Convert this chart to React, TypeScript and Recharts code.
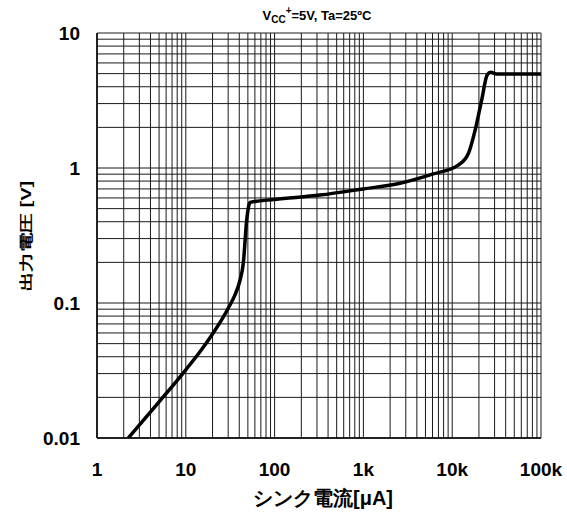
import { LineChart, Line, XAxis, YAxis, CartesianGrid, Customized } from 'recharts'

// sink current [uA] vs output voltage [V]
const currentUA = [2.25, 5, 10, 15, 20, 25, 31, 36, 40.5, 44.4, 48.5, 51, 53, 100, 325, 1000, 2580, 6000, 11700, 15200, 18100, 21500, 24800, 27100, 31700, 100000]
const voltageV = [0.01, 0.0185, 0.032, 0.045, 0.059, 0.074, 0.095, 0.116, 0.145, 0.197, 0.41, 0.52, 0.556, 0.585, 0.63, 0.7, 0.77, 0.9, 1.05, 1.28, 1.9, 3.2, 4.9, 5.12, 4.97, 4.97]

const xDecades = [1, 10, 100, 1000, 10000, 100000]
const xDecadeLabels = ['1', '10', '100', '1k', '10k', '100k']
const yDecades = [0.01, 0.1, 1, 10]
const yDecadeLabels = ['0.01', '0.1', '1', '10']
const steps = [1, 2, 3, 4, 5, 6, 7, 8, 9]

const data = currentUA.map((x, i) => ({ x, y: voltageV[i] }))

const gridTicks = (decades: number[]) => {
  const out: number[] = []
  decades.forEach((d, i) => {
    if (i === decades.length - 1) {
      out.push(d)
      return
    }
    steps.forEach((m) => out.push(Number((d * m).toPrecision(3))))
  })
  return out
}

const xTicks = gridTicks(xDecades)
const yTicks = gridTicks(yDecades)

const fmt = (decades: number[], labels: string[]) => (v: number) => {
  const i = decades.findIndex((d) => Math.abs(d - v) < d * 1e-6)
  return i >= 0 ? labels[i] : ''
}

const font = 'Arial, "Liberation Sans", sans-serif'

function Title() {
  return (
    <text x={317} y={20} textAnchor="middle" fontFamily={font} fontWeight="bold" fontSize={13} fill="#000">
      V
      <tspan fontSize={10} dy={3}>CC</tspan>
      <tspan fontSize={10} dy={-9}>+</tspan>
      <tspan dy={6}>=5V, Ta=25ºC</tspan>
    </text>
  )
}

function AxisTitles() {
  return (
    <g fontFamily={font} fontWeight="bold" fill="#000">
      <text x={323} y={505} textAnchor="middle" fontSize={20}>シンク電流[μA]</text>
      <text
        x={0}
        y={0}
        textAnchor="middle"
        fontSize={20}
        transform="translate(31,236) rotate(-90) scale(1,0.72)"
      >
        出力電圧 [V]
      </text>
    </g>
  )
}

export default function App() {
  return (
    <div style={{ position: 'fixed', left: 0, top: 0, width: 567, height: 513, background: '#fff' }}>
      <LineChart width={567} height={513} data={data} margin={{ top: 33, right: 26, bottom: 35, left: 37 }}>
        <CartesianGrid
          stroke="#1a1a1a"
          strokeWidth={1}
          horizontalValues={yTicks}
          verticalValues={xTicks}
        />
        <XAxis
          dataKey="x"
          type="number"
          scale="log"
          domain={[1, 100000]}
          ticks={xTicks}
          interval={0}
          tickFormatter={fmt(xDecades, xDecadeLabels)}
          tickLine={false}
          tickSize={0}
          tickMargin={25}
          height={40}
          axisLine={{ stroke: '#000', strokeWidth: 1.5 }}
          tick={{ fill: '#000', fontSize: 19, fontWeight: 'bold', fontFamily: font }}
          allowDataOverflow
        />
        <YAxis
          dataKey="y"
          type="number"
          scale="log"
          domain={[0.01, 10]}
          ticks={yTicks}
          interval={0}
          tickFormatter={fmt(yDecades, yDecadeLabels)}
          tickLine={false}
          tickSize={0}
          tickMargin={17}
          width={60}
          axisLine={{ stroke: '#000', strokeWidth: 1.5 }}
          tick={{ fill: '#000', fontSize: 19, fontWeight: 'bold', fontFamily: font }}
          allowDataOverflow
        />
        <Line
          dataKey="y"
          type="monotone"
          stroke="#000"
          strokeWidth={3.5}
          dot={false}
          isAnimationActive={false}
        />
        <Customized component={Title} />
        <Customized component={AxisTitles} />
      </LineChart>
    </div>
  )
}
